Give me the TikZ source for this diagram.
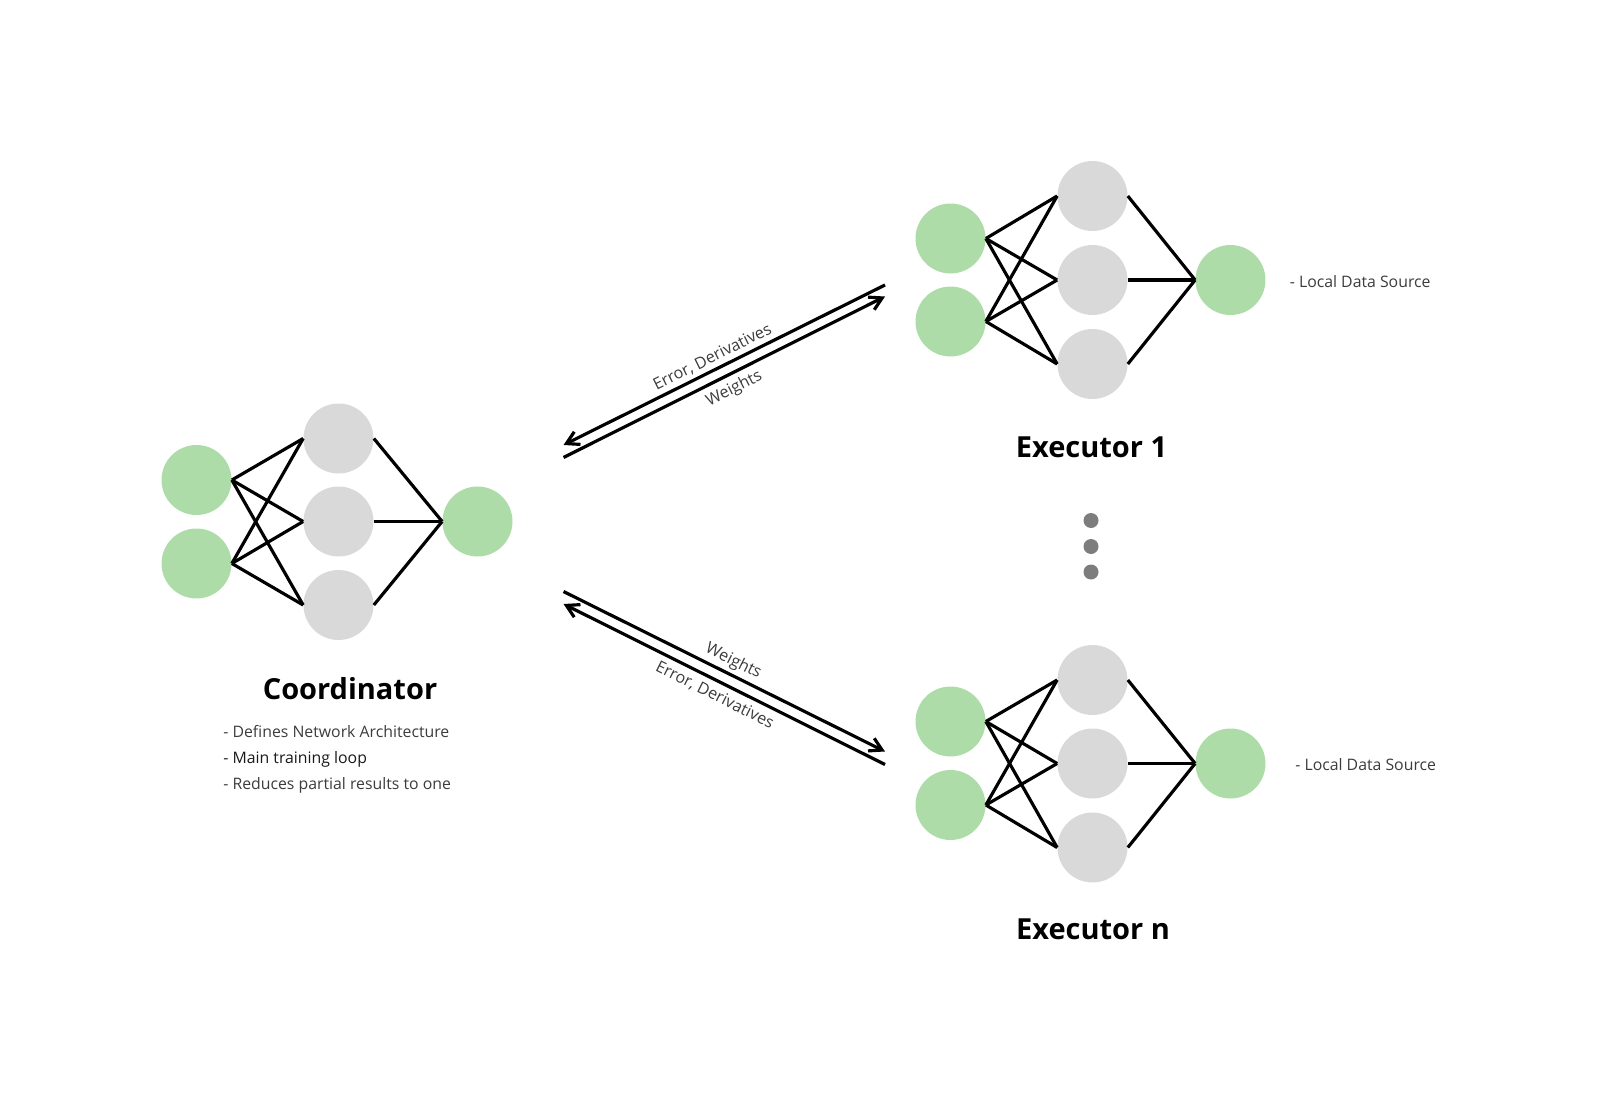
\documentclass[tikz,border=0pt]{standalone}
\usepackage{fontspec}
\setmainfont{Open Sans}
\usetikzlibrary{arrows.meta}
\definecolor{neurongreen}{RGB}{173,220,168}
\definecolor{neurongrey}{RGB}{217,217,217}
\definecolor{dotgrey}{RGB}{125,125,125}
\definecolor{textgrey}{RGB}{60,60,60}

\begin{document}
\begin{tikzpicture}[auto,
        io/.style={circle, fill=neurongreen, minimum size=1.4cm, inner sep=0pt},
        hid/.style={circle, fill=neurongrey, minimum size=1.4cm, inner sep=0pt},
        more/.style={circle, fill=dotgrey, minimum size=0.3cm, inner sep=0pt},
        wire/.style={line width=1.8pt},
        msg/.style={line width=1.8pt, ->},
        msglbl/.style={sloped, font=\fontsize{9.2pt}{11pt}\selectfont, text=textgrey, inner sep=2pt},
        title/.style={font=\fontsize{16.5pt}{20pt}\selectfont\bfseries},
        note/.style={font=\fontsize{9pt}{11pt}\selectfont, text=textgrey, inner sep=0pt, anchor=base west},
        >={Straight Barb[length=7pt,width=8pt]}]
            \useasboundingbox (0,0) rectangle (32,-22.2);
            \begin{scope}
                \node[name=CI1, io] at (3.93,-9.60) (CI1) {};
                \node[name=CI2, io] at (3.93,-11.27) (CI2) {};
                \node[name=CH1, hid] at (6.77,-8.77) (CH1) {};
                \node[name=CH2, hid] at (6.77,-10.43) (CH2) {};
                \node[name=CH3, hid] at (6.77,-12.10) (CH3) {};
                \node[name=CO, io] at (9.55,-10.43) (CO) {};
                \draw[wire] (CI1.east) -- (CH1.west);
                \draw[wire] (CI1.east) -- (CH2.west);
                \draw[wire] (CI1.east) -- (CH3.west);
                \draw[wire] (CI2.east) -- (CH1.west);
                \draw[wire] (CI2.east) -- (CH2.west);
                \draw[wire] (CI2.east) -- (CH3.west);
                \draw[wire] (CH1.east) -- (CO.west);
                \draw[wire] (CH2.east) -- (CO.west);
                \draw[wire] (CH3.east) -- (CO.west);
                \node[name=coord, title] at (7.00,-13.77) (coord) {Coordinator};
                \node[name=c1, note] at (4.46,-14.75) (c1) {- Defines Network Architecture};
                \node[name=c2, note, text=black!90] at (4.46,-15.26) (c2) {- Main training loop};
                \node[name=c3, note] at (4.46,-15.78) (c3) {- Reduces partial results to one};

                \node[name=AI1, io] at (19.01,-4.77) (AI1) {};
                \node[name=AI2, io] at (19.01,-6.43) (AI2) {};
                \node[name=AH1, hid] at (21.85,-3.92) (AH1) {};
                \node[name=AH2, hid] at (21.85,-5.60) (AH2) {};
                \node[name=AH3, hid] at (21.85,-7.28) (AH3) {};
                \node[name=AO, io] at (24.61,-5.60) (AO) {};
                \draw[wire] (AI1.east) -- (AH1.west);
                \draw[wire] (AI1.east) -- (AH2.west);
                \draw[wire] (AI1.east) -- (AH3.west);
                \draw[wire] (AI2.east) -- (AH1.west);
                \draw[wire] (AI2.east) -- (AH2.west);
                \draw[wire] (AI2.east) -- (AH3.west);
                \draw[wire] (AH1.east) -- (AO.west);
                \draw[wire] (AH2.east) -- (AO.west);
                \draw[wire] (AH3.east) -- (AO.west);
                \node[name=exec1, title] at (21.83,-8.95) (exec1) {Executor 1};
                \node[name=src1, note] at (25.79,-5.75) (src1) {- Local Data Source};

                \node[name=d1, more] at (21.82,-10.41) (d1) {};
                \node[name=d2, more] at (21.82,-10.93) (d2) {};
                \node[name=d3, more] at (21.82,-11.44) (d3) {};

                \node[name=BI1, io] at (19.01,-14.43) (BI1) {};
                \node[name=BI2, io] at (19.01,-16.10) (BI2) {};
                \node[name=BH1, hid] at (21.85,-13.60) (BH1) {};
                \node[name=BH2, hid] at (21.85,-15.27) (BH2) {};
                \node[name=BH3, hid] at (21.85,-16.95) (BH3) {};
                \node[name=BO, io] at (24.61,-15.27) (BO) {};
                \draw[wire] (BI1.east) -- (BH1.west);
                \draw[wire] (BI1.east) -- (BH2.west);
                \draw[wire] (BI1.east) -- (BH3.west);
                \draw[wire] (BI2.east) -- (BH1.west);
                \draw[wire] (BI2.east) -- (BH2.west);
                \draw[wire] (BI2.east) -- (BH3.west);
                \draw[wire] (BH1.east) -- (BO.west);
                \draw[wire] (BH2.east) -- (BO.west);
                \draw[wire] (BH3.east) -- (BO.west);
                \node[name=execn, title] at (21.86,-18.59) (execn) {Executor n};
                \node[name=srcn, note] at (25.90,-15.40) (srcn) {- Local Data Source};

                \coordinate (errA) at (17.70,-5.70);
                \coordinate (errB) at (11.27,-8.90);
                \coordinate (wgtA) at (11.27,-9.15);
                \coordinate (wgtB) at (17.70,-5.93);
                \coordinate (wgtC) at (11.27,-11.83);
                \coordinate (wgtD) at (17.70,-15.03);
                \coordinate (errC) at (17.70,-15.29);
                \coordinate (errD) at (11.27,-12.08);
                \draw[msg] (errA) -- node[msglbl, above, pos=0.52] {Error, Derivatives} (errB);
                \draw[msg] (wgtA) -- node[msglbl, below, pos=0.51, inner sep=3.2pt] {Weights} (wgtB);
                \draw[msg] (wgtC) -- node[msglbl, above, pos=0.51] {Weights} (wgtD);
                \draw[msg] (errC) -- node[msglbl, below, pos=0.51, inner sep=3.2pt] {Error, Derivatives} (errD);
            \end{scope}
        \end{tikzpicture}
\end{document}
